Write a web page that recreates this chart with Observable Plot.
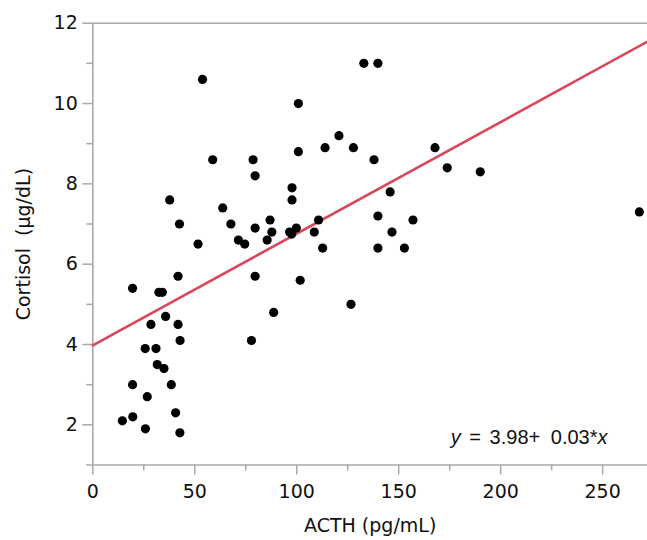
<!DOCTYPE html>
<html><head><meta charset="utf-8">
<script src="https://cdn.jsdelivr.net/npm/d3@7"></script>
<script src="https://cdn.jsdelivr.net/npm/@observablehq/plot@0.6"></script>
<style>body{margin:0;background:#fff}</style>
</head><body><div id="chart"></div>
<script>
// ACTH (pg/mL) and cortisol (µg/dL)
const acth = [14.5, 19.6, 25.8, 40.6, 42.7, 26.7, 19.5, 38.5, 31.6, 34.9,
  25.7, 31.0, 42.8, 28.5, 41.8, 35.7, 19.5, 32.4, 34.1, 41.8,
  51.6, 42.5, 37.7, 53.8, 58.8, 63.7, 67.7, 71.4, 74.5, 77.8,
  78.6, 79.6, 79.6, 79.6, 85.5, 86.9, 87.8, 88.7, 96.5, 97.5,
  99.8, 97.7, 97.7, 100.8, 100.8, 101.7, 108.6, 110.7, 112.7, 113.9,
  120.7, 126.6, 127.8, 132.9, 137.9, 139.8, 139.8, 139.8, 145.8, 146.7,
  152.8, 157.0, 167.8, 173.8, 190.0, 268.0];
const cortisol = [2.1, 2.2, 1.9, 2.3, 1.8, 2.7, 3.0, 3.0, 3.5, 3.4,
  3.9, 3.9, 4.1, 4.5, 4.5, 4.7, 5.4, 5.3, 5.3, 5.7,
  6.5, 7.0, 7.6, 10.6, 8.6, 7.4, 7.0, 6.6, 6.5, 4.1,
  8.6, 8.2, 6.9, 5.7, 6.6, 7.1, 6.8, 4.8, 6.8, 6.75,
  6.9, 7.9, 7.6, 10.0, 8.8, 5.6, 6.8, 7.1, 6.4, 8.9,
  9.2, 5.0, 8.9, 11.0, 8.6, 11.0, 7.2, 6.4, 7.8, 6.8,
  6.4, 7.1, 8.9, 8.4, 8.3, 7.3];

// fitted line and its label
const fitIntercept = 3.98;
const fitSlope = 0.0278;
const fitX = [0, 272];
const eqIntercept = "3.98";
const eqSlope = "0.03";

// axes
const xDomain = [0, 272];
const yDomain = [1, 12];
const xMajorTicks = [0, 50, 100, 150, 200, 250];
const xMinorTicks = [25, 75, 125, 175, 225];
const yMajorTicks = [2, 4, 6, 8, 10, 12];
const yMinorTicks = [1, 3, 5, 7, 9, 11];
const xLabel = "ACTH (pg/mL)";
const yLabel = "Cortisol\u00a0\u00a0(µg/dL)";

const points = acth.map((x, i) => ({x, y: cortisol[i]}));
const fitLine = fitX.map(x => ({x, y: fitIntercept + fitSlope * x}));

const axisGray = "#a9a9a9";
const chart = Plot.plot({
  width: 647,
  height: 540,
  marginTop: 22.7,
  marginBottom: 75.5,
  marginLeft: 92.3,
  marginRight: 0,
  style: {fontFamily: "DejaVu Sans", fontSize: "19px", color: "#111", background: "#fff"},
  x: {domain: xDomain},
  y: {domain: yDomain},
  marks: [
    Plot.ruleY([yDomain[1]], {stroke: axisGray, strokeWidth: 1.6}),
    Plot.ruleY([yDomain[0]], {stroke: axisGray, strokeWidth: 1.6}),
    Plot.ruleX([xDomain[0]], {stroke: axisGray, strokeWidth: 1.6}),
    Plot.axisY(yMinorTicks, {tickSize: 6, tickFormat: () => "", stroke: axisGray, strokeWidth: 1.5, label: null}),
    Plot.axisY(yMajorTicks, {tickSize: 10, tickPadding: 5, stroke: axisGray, strokeWidth: 1.5, fill: "#111",
      label: yLabel, labelAnchor: "center", labelOffset: 76, labelArrow: "none"}),
    Plot.axisX(xMinorTicks, {tickSize: 6, tickFormat: () => "", stroke: axisGray, strokeWidth: 1.5, label: null}),
    Plot.axisX(xMajorTicks, {tickSize: 10, tickPadding: 9, stroke: axisGray, strokeWidth: 1.5, fill: "#111",
      label: xLabel, labelAnchor: "center", labelOffset: 66.5, labelArrow: "none"}),
    Plot.line(fitLine, {x: "x", y: "y", stroke: "#d9475a", strokeWidth: 2.6}),
    Plot.dot(points, {x: "x", y: "y", r: 4.6, fill: "#000"}),
    Plot.text([`y = ${eqIntercept}+ ${eqSlope}*x`], {frameAnchor: "bottom-right", textAnchor: "end", lineAnchor: "bottom",
      dx: -40, dy: -21.5, fontSize: 20, fontFamily: "Liberation Sans, Arial, sans-serif", fill: "#111"})
  ]
});
document.getElementById("chart").appendChild(chart);

// italicise the variables in the equation label, with the wider gaps of the original
const eq = d3.select(chart).select('g[aria-label="text"] text');
eq.text(null);
eq.append("tspan").attr("font-style", "italic").text("y");
eq.append("tspan").attr("dx", 3).text(" =");
eq.append("tspan").attr("dx", 3).text(` ${eqIntercept}+`);
eq.append("tspan").attr("dx", 5).text(` ${eqSlope}*`);
eq.append("tspan").attr("font-style", "italic").text("x");
</script>
</body></html>
